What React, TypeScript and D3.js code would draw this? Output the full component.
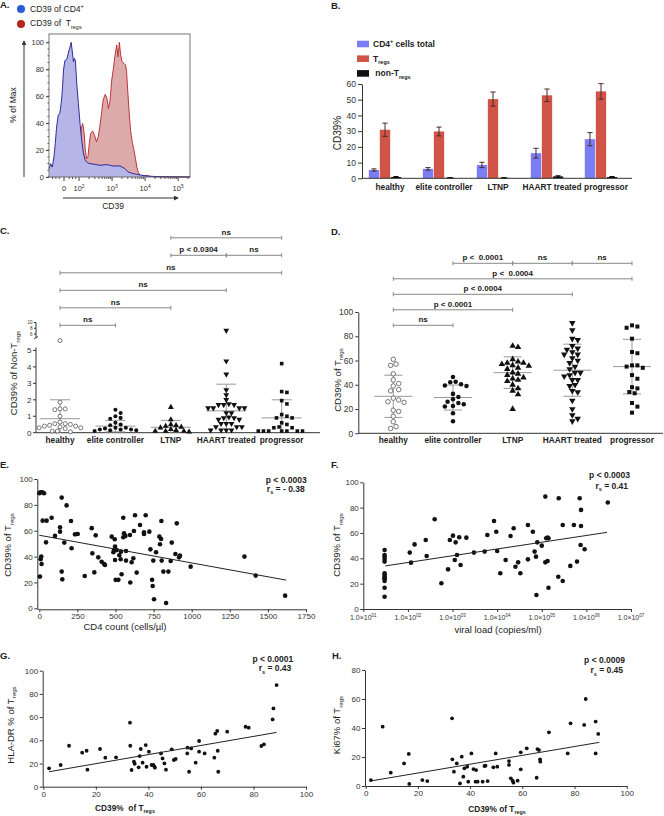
import React, { useEffect, useRef } from 'react';
import * as d3 from 'd3';

const FONT = 'Arial, "Liberation Sans", Helvetica, sans-serif';
const INK = '#222';
const AXIS = '#333';

// ---------- A. CD39 histogram (x in display decades: 2 = 10^2, y = % of max) ----------
const histTickPos = [1.545, 2, 3, 4, 5];
const histTickExp = ['', '2', '3', '4', '5'];
const blueHistX = [1.10, 1.14, 1.19, 1.24, 1.28, 1.32, 1.37, 1.42, 1.47, 1.50, 1.53, 1.57, 1.63, 1.66, 1.70, 1.73, 1.76, 1.79, 1.83, 1.86, 1.89, 1.93, 1.98, 2.03, 2.08, 2.13, 2.18, 2.25, 2.33, 2.48, 2.63, 2.84, 3.04, 3.24, 3.39, 3.49, 3.64, 3.85, 4.05, 4.45, 5.36];
const blueHistY = [6.2, 9.9, 7.4, 14.9, 24.8, 37.2, 45.9, 47.6, 57.1, 67, 79.4, 86.4, 87.3, 90.6, 94.3, 96.8, 100, 94.3, 85.6, 88.1, 86.4, 69.5, 54.6, 39.7, 27.3, 17.9, 12.9, 10.7, 9.9, 9.4, 8.7, 9.2, 8.2, 8.2, 6.2, 3.7, 2.5, 1.5, 0.7, 0.2, 0];
const redHistX = [1.10, 1.63, 1.93, 2.03, 2.07, 2.11, 2.15, 2.19, 2.23, 2.27, 2.31, 2.35, 2.41, 2.47, 2.53, 2.58, 2.63, 2.68, 2.73, 2.79, 2.84, 2.89, 2.94, 2.99, 3.04, 3.09, 3.14, 3.18, 3.22, 3.26, 3.30, 3.36, 3.41, 3.44, 3.48, 3.52, 3.56, 3.61, 3.66, 3.71, 3.75, 3.79, 3.85, 3.93, 4.05, 4.15, 4.25, 5.36];
const redHistY = [0.2, 0.5, 2.5, 22.3, 36, 39.7, 33.5, 19.9, 13.6, 14.9, 24.8, 32.3, 34.2, 31, 26.1, 29.8, 37.7, 47.1, 57.1, 61.3, 59.1, 50.9, 57.1, 72, 80.6, 90.6, 98, 89.3, 100, 90.6, 85.6, 84.4, 83.1, 78.2, 62, 47.1, 34.7, 26.1, 20.3, 13.6, 7.4, 3.7, 1.2, 0.5, 1.2, 0.5, 0.2, 0];

// ---------- B. mean CD39% per group ----------
const groups = ['healthy', 'elite controller', 'LTNP', 'HAART treated', 'progressor'];
const cd4Total = [5.3, 6.0, 8.5, 16.0, 24.9];
const cd4TotalErr = [0.7, 0.8, 1.7, 3.1, 4.2];
const tregs = [30.9, 29.8, 50.4, 52.8, 55.3];
const tregsErr = [4.2, 2.8, 4.5, 4.0, 4.9];
const nonTregs = [0.8, 0.3, 0.3, 1.2, 0.8];
const nonTregsErr = [0.3, 0.1, 0.1, 0.4, 0.3];

// ---------- C. CD39% of non-Tregs ----------
const nonTregHealthy = [5.6, 1.85, 1.45, 1.45, 1.4, 1.0, 0.65, 0.55, 0.55, 0.5, 0.45, 0.4, 0.4, 0.35, 0.3, 0.3, 0.25, 0.1, 0.1, 0.05];
const nonTregElite = [1.4, 1.2, 1.0, 0.9, 0.85, 0.6, 0.5, 0.45, 0.3, 0.3, 0.25, 0.2, 0.2, 0.2, 0.15, 0.15, 0.1];
const nonTregLtnp = [1.55, 0.8, 0.5, 0.45, 0.4, 0.35, 0.3, 0.2, 0.15, 0.1, 0.1, 0.1, 0.05];
const nonTregHaart = [7.2, 4.35, 3.55, 2.6, 2.3, 2.0, 1.75, 1.7, 1.7, 1.7, 1.5, 1.5, 1.5, 1.5, 1.2, 1.2, 0.95, 0.9, 0.9, 0.8, 0.8, 0.55, 0.55, 0.55, 0.35, 0.35, 0.35, 0.15, 0.15, 0.15, 0.15];
const nonTregProg = [4.2, 2.5, 2.45, 1.95, 1.75, 1.1, 1.0, 0.9, 0.9, 0.6, 0.5, 0.35, 0.3, 0.3, 0.1, 0.1, 0.1, 0.1, 0.1, 0.1, 0.1];
const nonTregMean = [0.85, 0.4, 0.33, 1.33, 0.9];
const nonTregSd = [1.15, 0.35, 0.42, 1.62, 1.1];
const bracketsC = [
  { from: 'healthy', to: 'elite controller', label: 'ns', row: 0 },
  { from: 'healthy', to: 'LTNP', label: 'ns', row: 1 },
  { from: 'healthy', to: 'HAART treated', label: 'ns', row: 2 },
  { from: 'healthy', to: 'progressor', label: 'ns', row: 3 },
  { from: 'LTNP', to: 'HAART treated', label: 'p < 0.0304', row: 4 },
  { from: 'HAART treated', to: 'progressor', label: 'ns', row: 4 },
  { from: 'LTNP', to: 'progressor', label: 'ns', row: 5 },
];

// ---------- D. CD39% of Tregs ----------
const tregHealthy = [61, 57, 56, 49, 44, 41, 39, 36, 35, 29, 27.5, 26, 25.5, 19, 18, 14, 9.5, 5.5, 4];
const tregElite = [46.5, 42.5, 42, 40.5, 39.5, 39, 32.5, 30, 28, 26, 25, 24, 22.5, 22, 16.5, 10];
const tregLtnp = [72, 71, 61, 59, 58, 58, 57, 56, 55.5, 54, 53, 50, 49, 48, 46, 45, 44, 43, 40, 37, 35, 32, 20];
const tregHaart = [91, 85, 78, 77, 72, 70, 69, 67, 65, 65, 62, 60, 58, 55, 53, 50, 50, 48, 47, 44, 44, 40, 39, 35, 34, 27, 20, 15, 12, 10];
const tregProg = [89, 88, 87, 78, 67, 66, 56, 56, 55, 54, 48, 45, 38, 37, 34, 33, 25, 22, 17];
const tregMean = [30.5, 29.5, 50, 52, 55];
const tregSd = [17.4, 10.3, 13, 21.5, 22.5];
const bracketsD = [
  { from: 'healthy', to: 'elite controller', label: 'ns', row: 0 },
  { from: 'healthy', to: 'LTNP', label: 'p < 0.0001', row: 1 },
  { from: 'healthy', to: 'HAART treated', label: 'p < 0.0004', row: 2 },
  { from: 'healthy', to: 'progressor', label: 'p <  0.0004', row: 3 },
  { from: 'elite controller', to: 'LTNP', label: 'p <  0.0001', row: 4 },
  { from: 'LTNP', to: 'HAART treated', label: 'ns', row: 4 },
  { from: 'HAART treated', to: 'progressor', label: 'ns', row: 4 },
];

// ---------- E. CD4 count vs CD39% of Tregs ----------
const cd4Count = [4, 7, 20, 31, 0, 22, 48, 13, 9, 15, 44, 81, 103, 136, 136, 147, 147, 151, 164, 179, 208, 212, 234, 252, 298, 344, 348, 361, 370, 387, 409, 425, 431, 475, 486, 490, 495, 497, 497, 501, 508, 519, 525, 536, 534, 540, 551, 551, 556, 565, 569, 569, 595, 597, 606, 617, 621, 628, 639, 661, 687, 687, 698, 722, 729, 740, 744, 748, 753, 766, 788, 792, 799, 801, 803, 814, 832, 847, 862, 869, 893, 902, 917, 923, 993, 1346, 1420, 1613];
const cd39E = [24.5, 89.7, 89.7, 89, 89, 67.8, 67.8, 40, 38, 34.3, 51, 70, 56, 59.3, 62.6, 85.6, 28.4, 22.4, 50.8, 79.6, 67.5, 46.4, 57.2, 57.5, 25, 62, 42.5, 27.8, 56.4, 39.4, 36, 34.3, 33.5, 55.4, 43.3, 45, 53.4, 47.7, 37.4, 22, 45, 22, 41, 43.8, 37.9, 26.3, 70, 55, 58, 56, 44.3, 36.9, 56.7, 20, 35.6, 38.7, 59.8, 72, 27.6, 64.4, 57.5, 58.8, 72, 59.3, 45.6, 22, 17.3, 36.9, 7, 43.3, 55.4, 49.5, 53.6, 67.5, 36.9, 28.4, 4.1, 28.4, 36.6, 50.8, 42, 65.7, 39.4, 40.7, 32.2, 40, 25.3, 9.8];
const fitEX = [0, 1620];
const fitEY = [56.5, 21.8];

// ---------- F. viral load vs CD39% of Tregs ----------
const viralLoad = [30, 30, 30, 30, 30, 30, 30, 30, 30, 30, 30, 30, 30, 110, 117, 141, 251, 263, 398, 562, 794, 871, 1023, 1122, 1175, 1259, 1413, 1514, 2042, 3020, 5248, 6026, 8511, 9550, 10000, 11750, 15490, 19950, 23440, 25700, 29510, 33110, 48980, 48980, 63100, 69180, 74130, 75860, 79430, 100000, 120200, 125900, 134900, 141300, 120200, 134900, 141300, 234400, 239900, 295100, 295100, 436500, 524800, 616600, 707900, 758600, 758600, 741300, 912000, 3020000];
const cd39F = [46.6, 42.6, 41.3, 39.5, 37.4, 28.2, 26.8, 25.5, 24.2, 23.7, 22.1, 16.8, 9.7, 44.5, 36.6, 51, 54.5, 41.8, 70.8, 20.3, 31.3, 54.5, 57.9, 38.7, 52.6, 42.6, 56.6, 34.7, 56.3, 44.5, 45.3, 58.4, 69.5, 61, 45.8, 28.2, 38.7, 57.6, 63.7, 33.4, 36.8, 28.2, 39.2, 66.3, 61, 45.3, 41.3, 11, 52.6, 50, 88.7, 55.8, 56.3, 55.8, 36.8, 37.9, 16.8, 25.5, 87.4, 66.3, 22.1, 34, 66.3, 37.4, 87.4, 78.2, 65.5, 50.5, 47.1, 84];
const fitFX = [31, 2900000];
const fitFY = [34, 60.5];

// ---------- G. CD39% vs HLA-DR% of Tregs ----------
const cd39G = [2.2, 6.6, 9.8, 14.8, 16.5, 16.8, 21.6, 23.6, 27.7, 33, 33.1, 33.6, 34.5, 34.8, 36.3, 36.7, 37.1, 37.8, 39, 39.3, 40.2, 41.2, 41.9, 42.3, 42.5, 44.8, 45.4, 46.1, 46.7, 48.9, 49.7, 50.4, 54.8, 54.9, 55.5, 56.3, 58, 59.3, 59.3, 61.4, 65.1, 65.5, 66.2, 66.4, 66.6, 70, 77, 78.2, 83, 84, 87.3, 87.6, 88.8];
const hlaDr = [15.8, 18.7, 35.3, 29.3, 31, 14.7, 32.5, 25, 25.3, 55.2, 35.3, 14.4, 21.6, 19.8, 16.7, 26.4, 32.5, 20.7, 35.9, 17.2, 30.2, 18.7, 18.7, 17.2, 16.4, 28.7, 24.4, 20.1, 14.7, 32.2, 23, 23.9, 28.7, 33.6, 12.9, 33, 20.7, 39.4, 30.2, 28.7, 25, 45.7, 48, 31, 12.9, 47.4, 51.7, 50.9, 35.1, 36.5, 58, 67.5, 87.6];
const fitGX = [2.2, 88.8];
const fitGY = [12.9, 46.8];

// ---------- H. CD39% vs Ki67% of Tregs ----------
const cd39H = [2, 6.5, 9.6, 14.7, 16.5, 16.7, 21.7, 23.6, 33.1, 33.2, 33.8, 34.9, 36.1, 36.8, 37.4, 37.8, 38.9, 39.3, 40.5, 41.3, 42.3, 42.1, 42.9, 44.8, 45.5, 45.9, 46.7, 48.9, 49.8, 50.4, 54.9, 54.9, 55.6, 56.3, 56.6, 58.2, 59.4, 59.4, 61.7, 65.5, 65.8, 66.4, 66.8, 66.9, 70.2, 77.4, 78.5, 83.7, 84.3, 88.1, 88.1, 89.1];
const ki67 = [4.1, 40.9, 9.2, 15.6, 22.1, 1.4, 4.1, 3.4, 46.7, 18.4, 9.9, 15.6, 1.8, 20.2, 6.4, 12.2, 13.3, 3, 22.5, 11.7, 11, 3, 3, 3, 13.8, 14, 3.4, 12.9, 22.5, 13.3, 17.2, 14.5, 5.3, 3.7, 2.3, 3.7, 23.2, 11.5, 26, 5.7, 25.5, 24.8, 18.4, 16.8, 37, 22.5, 43.2, 42.1, 60, 44.4, 22.5, 35.9];
const fitHX = [1.7, 89.5];
const fitHY = [3.4, 30.1];

type Part = [string, number]; // 0 normal, 1 subscript, -1 superscript

function txt(g: any, x: number, y: number, content: string | Part[], o: any = {}) {
  const fs = o.fs ?? 8;
  const t = g.append('text')
    .attr('font-family', FONT)
    .attr('font-size', fs)
    .attr('font-weight', o.bold ? 'bold' : 'normal')
    .attr('fill', o.fill ?? INK)
    .attr('text-anchor', o.anchor ?? 'start')
    .style('white-space', 'pre');
  if (o.rotate) t.attr('transform', `translate(${x},${y}) rotate(-90)`);
  else t.attr('x', x).attr('y', y);
  if (typeof content === 'string') {
    t.text(content);
  } else {
    let cur = 0;
    content.forEach(([s, k]) => {
      const target = k === 1 ? fs * 0.3 : k === -1 ? -fs * 0.45 : 0;
      t.append('tspan').attr('dy', target - cur).attr('font-size', k ? fs * 0.65 : fs).text(s);
      cur = target;
    });
  }
  return t;
}

function styleAxis(a: any, fs: number) {
  a.attr('font-family', FONT).attr('font-size', fs);
  a.select('.domain').attr('stroke', AXIS);
  a.selectAll('.tick line').attr('stroke', AXIS);
  a.selectAll('.tick text').attr('fill', AXIS);
}

function hline(g: any, x1: number, x2: number, y: number, color = AXIS) {
  g.append('line').attr('x1', x1).attr('x2', x2).attr('y1', y).attr('y2', y).attr('stroke', color).attr('stroke-width', 1);
}

// simple beeswarm: spread points sideways so markers do not overlap
function swarm(values: number[], y: (v: number) => number, cx: number, step: number, minDist: number) {
  const placed: { x: number; y: number }[] = [];
  const out: { x: number; y: number }[] = new Array(values.length);
  const order = values.map((_, i) => i).sort((a, b) => values[b] - values[a]);
  order.forEach(i => {
    const py = y(values[i]);
    for (let k = 0; k < 60; k++) {
      const off = k === 0 ? 0 : (k % 2 ? 1 : -1) * Math.ceil(k / 2) * step;
      const px = cx + off;
      if (placed.every(p => (p.x - px) ** 2 + (p.y - py) ** 2 >= minDist * minDist)) {
        placed.push({ x: px, y: py });
        out[i] = { x: px, y: py };
        break;
      }
    }
  });
  return out;
}

const markerKinds = ['open', 'circle', 'up', 'down', 'square'];

function drawMarker(g: any, kind: string, x: number, y: number, size: number) {
  const type = kind === 'square' ? d3.symbolSquare : kind === 'up' || kind === 'down' ? d3.symbolTriangle : d3.symbolCircle;
  const p = g.append('path')
    .attr('d', d3.symbol(type, kind === 'up' || kind === 'down' ? size * 1.15 : size)())
    .attr('transform', `translate(${x},${y})${kind === 'down' ? ' rotate(180)' : ''}`);
  if (kind === 'open') p.attr('fill', '#fff').attr('stroke', '#555').attr('stroke-width', 0.8);
  else p.attr('fill', '#111');
}

function drawBracket(g: any, x1: number, x2: number, y: number, label: string, fs: number) {
  g.append('line').attr('x1', x1).attr('x2', x2).attr('y1', y).attr('y2', y).attr('stroke', '#888').attr('stroke-width', 1);
  [x1, x2].forEach(x => g.append('line').attr('x1', x).attr('x2', x).attr('y1', y - 2).attr('y2', y + 2).attr('stroke', '#888'));
  txt(g, (x1 + x2) / 2, y - 3, label, { fs, bold: true, anchor: 'middle' });
}

function drawA(svg: any) {
  const g = svg.append('g');
  const x = d3.scaleLinear().domain([1.09, 5.36]).range([49, 190]);
  const y = d3.scaleLinear().domain([0, 100]).range([177, 42.3]);
  txt(g, 0, 8, 'A.', { fs: 9.5, bold: true });
  // legend
  g.append('circle').attr('cx', 21).attr('cy', 9).attr('r', 4).attr('fill', '#2a5bd7');
  txt(g, 30, 12, [['CD39 of CD4', 0], ['+', -1]], { fs: 8.5 });
  g.append('circle').attr('cx', 21).attr('cy', 24).attr('r', 4).attr('fill', '#b3261e');
  txt(g, 30, 26, [['CD39 of  T', 0], ['regs', 1]], { fs: 8.5 });

  const area = (xs: number[], ys: number[]) => d3.area<number>()
    .x((_, i) => x(xs[i])).y0(y(0)).y1((_, i) => y(ys[i]))(xs);
  const line = (xs: number[], ys: number[]) => d3.line<number>()
    .x((_, i) => x(xs[i])).y((_, i) => y(ys[i]))(xs);
  g.append('path').attr('d', area(redHistX, redHistY)).attr('fill', '#ddaaab');
  g.append('path').attr('d', line(redHistX, redHistY)).attr('fill', 'none').attr('stroke', '#b3262a').attr('stroke-width', 0.9);
  g.append('path').attr('d', area(blueHistX, blueHistY)).attr('fill', '#b6b5e8');
  g.append('path').attr('d', line(blueHistX, blueHistY)).attr('fill', 'none').attr('stroke', '#1c1c8e').attr('stroke-width', 0.9);

  g.append('rect').attr('x', 49).attr('y', 34).attr('width', 141).attr('height', 143)
    .attr('fill', 'none').attr('stroke', '#555').attr('stroke-width', 0.8);
  const ya = g.append('g').attr('transform', 'translate(49,0)')
    .call(d3.axisLeft(y).tickValues([0, 20, 40, 60, 80, 100]).tickSize(3).tickSizeOuter(0).tickPadding(2));
  styleAxis(ya, 7.5);
  ya.select('.domain').remove();
  d3.range(0, 101, 5).forEach(v => hline(g, 47.5, 49, y(v), '#555'));
  // bottom ticks: 0 and decades, log minor ticks
  const minor: number[] = [1.2, 1.3, 1.4, 1.7, 1.8, 1.9];
  [2, 3, 4].forEach(d => d3.range(2, 10).forEach(k => minor.push(d + Math.log10(k))));
  d3.range(2, 10).forEach(k => { if (5 + Math.log10(k) < 5.36) minor.push(5 + Math.log10(k)); });
  minor.forEach(u => g.append('line').attr('x1', x(u)).attr('x2', x(u)).attr('y1', 177).attr('y2', 179).attr('stroke', '#555'));
  histTickPos.forEach((u, i) => {
    g.append('line').attr('x1', x(u)).attr('x2', x(u)).attr('y1', 177).attr('y2', 181).attr('stroke', '#444');
    txt(g, x(u), 191, i === 0 ? '0' : [['10', 0], [histTickExp[i], -1]], { fs: 7.5, anchor: 'middle', fill: AXIS });
  });
  // arrows
  const defs = svg.append('defs');
  defs.append('marker').attr('id', 'arrowA').attr('viewBox', '0 0 6 6').attr('refX', 5).attr('refY', 3)
    .attr('markerWidth', 5).attr('markerHeight', 5).attr('orient', 'auto')
    .append('path').attr('d', 'M0,0 L6,3 L0,6 Z').attr('fill', '#333');
  g.append('line').attr('x1', 24).attr('x2', 24).attr('y1', 177).attr('y2', 41).attr('stroke', '#333').attr('marker-end', 'url(#arrowA)');
  g.append('line').attr('x1', 63).attr('x2', 178).attr('y1', 198).attr('y2', 198).attr('stroke', '#333').attr('marker-end', 'url(#arrowA)');
  txt(g, 16, 105, '% of Max', { fs: 8.5, rotate: true, anchor: 'middle' });
  txt(g, 113, 208.5, 'CD39', { fs: 8.5, anchor: 'middle' });
}

function drawB(svg: any) {
  const g = svg.append('g');
  txt(g, 331, 8.5, 'B.', { fs: 9.5, bold: true });
  const x0 = d3.scaleBand().domain(groups).range([358, 628]).paddingInner(0.4).paddingOuter(0.2);
  const series = [
    { key: 'cd4', values: cd4Total, err: cd4TotalErr, color: '#7b7ef3' },
    { key: 'treg', values: tregs, err: tregsErr, color: '#d05548' },
    { key: 'non', values: nonTregs, err: nonTregsErr, color: '#111' },
  ];
  const x1 = d3.scaleBand().domain(series.map(s => s.key)).range([0, x0.bandwidth()]).paddingInner(0.06);
  const y = d3.scaleLinear().domain([0, 60]).range([178.3, 84]);

  // legend
  const leg: [string, Part[], number][] = [
    ['#7b7ef3', [['CD4', 0], ['+', -1], [' cells total', 0]], 373],
    ['#d05548', [['T', 0], ['regs', 1]], 373],
    ['#111', [[' non-T', 0], ['regs', 1]], 373],
  ];
  leg.forEach(([c, parts, tx], i) => {
    const cy = 44 + i * 14.7;
    g.append('rect').attr('x', 357).attr('y', cy - 3.3).attr('width', 12).attr('height', 6.6).attr('fill', c);
    txt(g, tx, cy + 2.8, parts, { fs: 8.5, bold: true });
  });

  series.forEach(s => {
    groups.forEach((grp, i) => {
      const bx = (x0(grp) as number) + (x1(s.key) as number);
      const bw = x1.bandwidth();
      g.append('rect').attr('x', bx).attr('y', y(s.values[i])).attr('width', bw)
        .attr('height', y(0) - y(s.values[i])).attr('fill', s.color);
      const cx = bx + bw / 2;
      const lo = Math.max(0, s.values[i] - s.err[i]);
      const hi = s.values[i] + s.err[i];
      const ec = s.key === 'non' ? '#000' : '#4a2a28';
      g.append('line').attr('x1', cx).attr('x2', cx).attr('y1', y(lo)).attr('y2', y(hi)).attr('stroke', ec).attr('stroke-width', 1);
      [lo, hi].forEach(v => g.append('line').attr('x1', cx - 2.6).attr('x2', cx + 2.6).attr('y1', y(v)).attr('y2', y(v)).attr('stroke', ec).attr('stroke-width', 1));
    });
  });

  const ya = g.append('g').attr('transform', 'translate(362,0)')
    .call(d3.axisLeft(y).tickValues([0, 10, 20, 30, 40, 50, 60]).tickSize(4).tickSizeOuter(0).tickPadding(2));
  styleAxis(ya, 8.5);
  hline(g, 362, 632, y(0));
  groups.forEach(grp => {
    txt(g, (x0(grp) as number) + x0.bandwidth() / 2 + 5, 189.5, grp, { fs: 8.3, bold: true, anchor: 'middle' });
  });
  txt(g, 340.5, 133, 'CD39%', { fs: 10, rotate: true, anchor: 'middle' });
}

function dotPanel(g: any, x: any, y: any, data: number[][], means: number[], sds: number[], o: any) {
  groups.forEach((grp, i) => {
    const cx = x(grp) as number;
    const m = means[i];
    const lo = Math.max(0, m - sds[i]);
    const hi = m + sds[i];
    const c = '#999';
    g.append('line').attr('x1', cx).attr('x2', cx).attr('y1', y(lo)).attr('y2', y(hi)).attr('stroke', c);
    hline(g, cx - o.meanHalf, cx + o.meanHalf, y(m), c);
    hline(g, cx - o.sdHalf, cx + o.sdHalf, y(hi), c);
    if (m - sds[i] > 0) hline(g, cx - o.sdHalf, cx + o.sdHalf, y(lo), c);
    const pts = swarm(data[i], y, cx, o.step, o.minDist);
    pts.forEach(p => drawMarker(g, markerKinds[i], p.x, p.y, o.size));
  });
}

function drawC(svg: any) {
  const g = svg.append('g');
  txt(g, 0, 233.5, 'C.', { fs: 9.5, bold: true });
  const x = d3.scalePoint().domain(groups).range([60, 281.7]);
  const y = d3.scaleLinear().domain([0, 6, 10]).range([432.7, 334, 322.5]);

  bracketsC.forEach(b => drawBracket(g, x(b.from) as number, x(b.to) as number, 325.3 - b.row * 17.5, b.label, 8));

  // broken y axis
  g.append('line').attr('x1', 36).attr('x2', 36).attr('y1', y(0)).attr('y2', 347.5).attr('stroke', AXIS);
  g.append('line').attr('x1', 36).attr('x2', 36).attr('y1', 337.5).attr('y2', y(10)).attr('stroke', AXIS);
  g.append('line').attr('x1', 34).attr('x2', 38).attr('y1', 339).attr('y2', 336.5).attr('stroke', AXIS);
  [0, 1, 2, 3, 4, 5].forEach(v => {
    hline(g, 33, 36, y(v));
    txt(g, 31.5, y(v) + 2.8, String(v), { fs: 8, anchor: 'end', fill: AXIS });
  });
  [6, 8, 10].forEach(v => {
    hline(g, 34, 36, y(v));
    txt(g, 32.5, y(v) + 1.6, String(v), { fs: 4.6, anchor: 'end', fill: AXIS });
  });
  hline(g, 36, 320, y(0));

  dotPanel(g, x, y, [nonTregHealthy, nonTregElite, nonTregLtnp, nonTregHaart, nonTregProg], nonTregMean, nonTregSd,
    { meanHalf: 20, sdHalf: 10, step: 2.6, minDist: 4.5, size: 13 });

  groups.forEach(grp => txt(g, x(grp) as number, 442.7, grp, { fs: 8.3, bold: true, anchor: 'middle' }));
  txt(g, 17, 373, [['CD39% of Non-T', 0], ['regs', 1]], { fs: 9.5, rotate: true, anchor: 'middle' });
}

function drawD(svg: any) {
  const g = svg.append('g');
  txt(g, 331, 234.5, 'D.', { fs: 9.5, bold: true });
  const x = d3.scalePoint().domain(groups).range([393.3, 632]);
  const y = d3.scaleLinear().domain([0, 100]).range([433.3, 312]);

  bracketsD.forEach(b => drawBracket(g, x(b.from) as number, x(b.to) as number, 325.3 - b.row * 15.5, b.label, 8));

  const ya = g.append('g').attr('transform', 'translate(358.3,0)')
    .call(d3.axisLeft(y).tickValues([0, 20, 40, 60, 80, 100]).tickSize(3).tickSizeOuter(0).tickPadding(2));
  styleAxis(ya, 8.5);
  hline(g, 358.3, 663, y(0));

  dotPanel(g, x, y, [tregHealthy, tregElite, tregLtnp, tregHaart, tregProg], tregMean, tregSd,
    { meanHalf: 19, sdHalf: 9, step: 2.7, minDist: 5, size: 16 });

  groups.forEach(grp => txt(g, x(grp) as number, 443.3, grp, { fs: 8.3, bold: true, anchor: 'middle' }));
  txt(g, 340.5, 380, [['CD39% of T', 0], ['regs', 1]], { fs: 9.5, rotate: true, anchor: 'middle' });
}

function scatterPanel(svg: any, o: any) {
  const g = svg.append('g');
  txt(g, o.letterX, o.letterY, o.letter, { fs: 9.5, bold: true });
  const { x, y } = o;
  const ya = g.append('g').attr('transform', `translate(${o.axisX},0)`)
    .call(d3.axisLeft(y).tickValues(o.yTicks).tickSize(3).tickSizeOuter(0).tickPadding(1.5));
  styleAxis(ya, 8);
  const xa = g.append('g').attr('transform', `translate(0,${o.axisY})`)
    .call(d3.axisBottom(x).tickValues(o.xTicks).tickSize(3).tickSizeOuter(0).tickPadding(1.5)
      .tickFormat(o.xFormat ?? ((d: any) => String(d))));
  styleAxis(xa, 8);
  hline(g, o.axisX, x.range()[0], o.axisY);

  o.xs.forEach((xv: number, i: number) => {
    g.append('circle').attr('cx', x(xv)).attr('cy', y(o.ys[i])).attr('r', o.r).attr('fill', '#111');
  });
  g.append('line').attr('x1', x(o.fitX[0])).attr('x2', x(o.fitX[1]))
    .attr('y1', y(o.fitY[0])).attr('y2', y(o.fitY[1])).attr('stroke', '#222').attr('stroke-width', 1);

  txt(g, o.statX, o.statY, o.pText, { fs: 8.5, bold: true, anchor: 'end' });
  txt(g, o.statX - 2, o.statY + o.statGap, [['r', 0], ['s', 1], [o.rText, 0]], { fs: 8.5, bold: true, anchor: 'end' });
  txt(g, o.yLabelX, o.yLabelY, o.yLabel, { fs: 9.5, rotate: true, anchor: 'middle' });
  txt(g, o.xLabelX, o.xLabelY, o.xLabel, { fs: o.xLabelBold ? 8.3 : 9.5, bold: o.xLabelBold, anchor: 'middle' });
  return g;
}

function drawE(svg: any) {
  scatterPanel(svg, {
    letter: 'E.', letterX: 0, letterY: 468,
    x: d3.scaleLinear().domain([0, 1750]).range([39.3, 306]),
    y: d3.scaleLinear().domain([0, 100]).range([608.3, 479]),
    axisX: 37.3, axisY: 609.3,
    yTicks: [0, 20, 40, 60, 80, 100], xTicks: [0, 250, 500, 750, 1000, 1250, 1500, 1750],
    xs: cd4Count, ys: cd39E, r: 2.3, fitX: fitEX, fitY: fitEY,
    statX: 306.7, statY: 482.5, statGap: 9, pText: 'p < 0.0003', rText: ' = - 0.38',
    yLabel: [['CD39% of T', 0], ['regs', 1]], yLabelX: 11, yLabelY: 545,
    xLabel: 'CD4 count (cells/µl)', xLabelX: 125, xLabelY: 630,
  });
}

function drawF(svg: any) {
  const g = scatterPanel(svg, {
    letter: 'F.', letterX: 331, letterY: 467.5,
    x: d3.scaleLog().domain([10, 1e7]).range([363.3, 631]),
    y: d3.scaleLinear().domain([0, 100]).range([609, 482.3]),
    axisX: 363.3, axisY: 609,
    yTicks: [0, 20, 40, 60, 80, 100], xTicks: [1e1, 1e2, 1e3, 1e4, 1e5, 1e6, 1e7],
    xFormat: () => '',
    xs: viralLoad, ys: cd39F, r: 2.3, fitX: fitFX, fitY: fitFY,
    statX: 630, statY: 477.5, statGap: 11, pText: 'p < 0.0003', rText: ' = 0.41',
    yLabel: [['CD39% of T', 0], ['regs', 1]], yLabelX: 340, yLabelY: 545,
    xLabel: 'viral load (copies/ml)', xLabelX: 498, xLabelY: 633,
  });
  const x = d3.scaleLog().domain([10, 1e7]).range([363.3, 631]);
  ['01', '02', '03', '04', '05', '06', '07'].forEach((e, i) => {
    txt(g, x(Math.pow(10, i + 1)), 620, [['1.0×10', 0], [e, -1]], { fs: 7, anchor: 'middle', fill: AXIS });
  });
}

function drawG(svg: any) {
  scatterPanel(svg, {
    letter: 'G.', letterX: 0, letterY: 658.5,
    x: d3.scaleLinear().domain([0, 100]).range([43.3, 306]),
    y: d3.scaleLinear().domain([0, 100]).range([786.7, 670.7]),
    axisX: 42.7, axisY: 786.7,
    yTicks: [0, 20, 40, 60, 80, 100], xTicks: [0, 20, 40, 60, 80, 100],
    xs: cd39G, ys: hlaDr, r: 1.9, fitX: fitGX, fitY: fitGY,
    statX: 293.3, statY: 661.5, statGap: 9.5, pText: 'p < 0.0001', rText: ' = 0.43',
    yLabel: [['HLA-DR % of T', 0], ['regs', 1]], yLabelX: 13.5, yLabelY: 725,
    xLabel: [['CD39%  of T', 0], ['regs', 1]], xLabelX: 125, xLabelY: 810.5, xLabelBold: true,
  });
}

function drawH(svg: any) {
  scatterPanel(svg, {
    letter: 'H.', letterX: 332, letterY: 658.5,
    x: d3.scaleLinear().domain([0, 100]).range([365.7, 626.7]),
    y: d3.scaleLinear().domain([0, 80]).range([786, 670]),
    axisX: 365, axisY: 786,
    yTicks: [0, 20, 40, 60, 80], xTicks: [0, 20, 40, 60, 80, 100],
    xs: cd39H, ys: ki67, r: 1.9, fitX: fitHX, fitY: fitHY,
    statX: 625, statY: 663, statGap: 10, pText: 'p < 0.0009', rText: ' = 0.45',
    yLabel: [['Ki67% of T', 0], ['regs', 1]], yLabelX: 340, yLabelY: 725,
    xLabel: [['CD39% of T', 0], ['regs', 1]], xLabelX: 497, xLabelY: 811.5, xLabelBold: true,
  });
}

export default function App() {
  const ref = useRef<SVGSVGElement>(null);

  useEffect(() => {
    const svg = d3.select(ref.current);
    svg.selectAll('*').remove();
    drawA(svg);
    drawB(svg);
    drawC(svg);
    drawD(svg);
    drawE(svg);
    drawF(svg);
    drawG(svg);
    drawH(svg);
  }, []);

  return (
    <svg
      ref={ref}
      width={664}
      height={816}
      style={{ position: 'absolute', left: 0, top: 0, background: '#fff' }}
    />
  );
}
